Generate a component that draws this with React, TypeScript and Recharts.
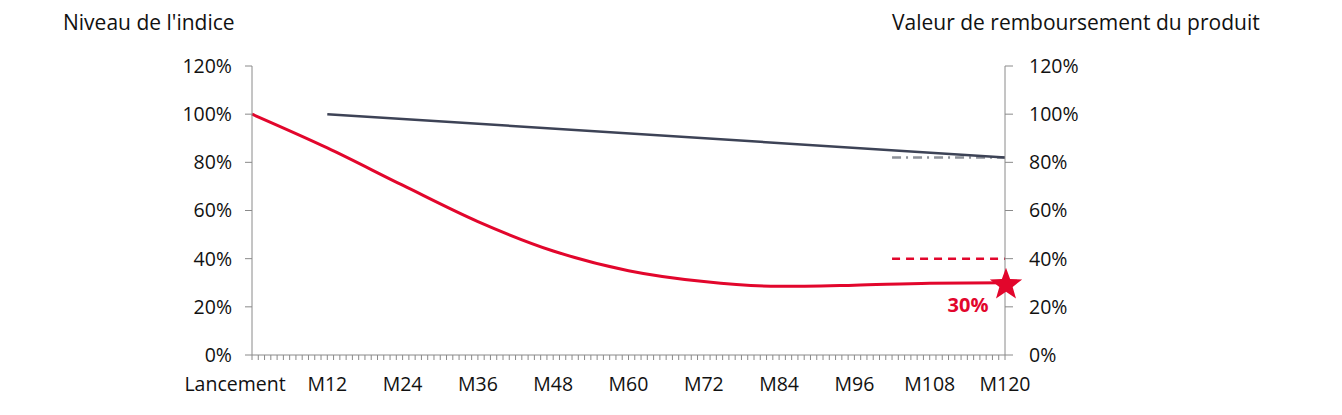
import { LineChart, Line, XAxis, YAxis } from "recharts"

// Échéances (mois) et libellés de l'axe horizontal
const months = [0, 12, 24, 36, 48, 60, 72, 84, 96, 108, 120]
const monthLabels = ["Lancement", "M12", "M24", "M36", "M48", "M60", "M72", "M84", "M96", "M108", "M120"]

// Niveau de l'indice (courbe rouge)
const indexLevel = [1.0, 0.86, 0.705, 0.554, 0.432, 0.35, 0.305, 0.285, 0.29, 0.298, 0.3]

// Seuil de remboursement anticipé (ligne grise)
const recallMonths = [12, 120]
const recallLevel = [1.0, 0.82]

// Barrières finales
const barrierMonths = [102, 120]
const finalRecallBarrier = [0.82, 0.82]
const protectionBarrier = [0.4, 0.4]

const yTicks = [0, 0.2, 0.4, 0.6, 0.8, 1.0, 1.2]
const finalLabel = "30%"

const RED = "#e2062c"
const NAVY = "#3d4356"
const GREY = "#8d9199"
const AXIS = "#8a8a8a"
const FONT = "'Open Sans', sans-serif"
const TICK_SIZE = 19.5

// Table construite à partir des tableaux ci-dessus
const allMonths = Array.from(new Set([...months, ...recallMonths, ...barrierMonths])).sort((a, b) => a - b)
const chartData = allMonths.map(m => {
  const i = months.indexOf(m)
  const r = recallMonths.indexOf(m)
  const b = barrierMonths.indexOf(m)
  return {
    month: m,
    indice: i >= 0 ? indexLevel[i] : null,
    rappel: r >= 0 ? recallLevel[r] : null,
    barriereRappel: b >= 0 ? finalRecallBarrier[b] : null,
    barriereProtection: b >= 0 ? protectionBarrier[b] : null,
  }
})

const monthTicks = Array.from({ length: 121 }, (_, i) => i)
const pct = (v: number) => `${Math.round(v * 100)}%`

function MonthTick({ x, y, payload }: any) {
  const idx = months.indexOf(payload.value)
  if (idx < 0) return <g />
  const dx = idx === 0 ? -17 : 0
  return (
    <text x={x + dx} y={y + 29} textAnchor="middle" fontSize={TICK_SIZE} fontFamily={FONT} fill="#111">
      {monthLabels[idx]}
    </text>
  )
}

function starPath(cx: number, cy: number, outer: number, inner: number) {
  const pts: string[] = []
  for (let k = 0; k < 10; k++) {
    const r = k % 2 === 0 ? outer : inner
    const a = -Math.PI / 2 + (k * Math.PI) / 5
    pts.push(`${cx + r * Math.cos(a)},${cy + r * Math.sin(a)}`)
  }
  return `M${pts.join("L")}Z`
}

function FinalDot(props: any) {
  const { cx, cy, payload, index } = props
  if (payload.month !== months[months.length - 1]) return <g key={`d${index}`} />
  return (
    <g key={`d${index}`}>
      <path d={starPath(cx + 1, cy + 2, 17, 7)} fill={RED} />
      <text x={cx - 37} y={cy + 29} textAnchor="middle" fontSize={20} fontWeight={700} fontFamily={FONT} fill={RED}>
        {finalLabel}
      </text>
    </g>
  )
}

export default function App() {
  return (
    <div style={{ position: "relative", width: 1326, height: 407, fontFamily: FONT }}>
      <div style={{ position: "absolute", left: 55, top: 0, fontSize: 21, color: "#111", whiteSpace: "nowrap" }}>
        Niveau de l'indice
      </div>
      <div style={{ position: "absolute", left: 884, top: 0, fontSize: 21, color: "#111", whiteSpace: "nowrap" }}>
        Valeur de remboursement du produit
      </div>
      <LineChart width={1326} height={407} data={chartData} margin={{ top: 58, right: 249, left: 184, bottom: 20 }}>
        <XAxis
          dataKey="month"
          type="number"
          domain={[0, 120]}
          ticks={monthTicks}
          interval={0}
          tick={<MonthTick />}
          tickSize={5}
          stroke={AXIS}
          height={40}
        />
        <YAxis
          yAxisId="left"
          domain={[0, 1.2]}
          ticks={yTicks}
          tickFormatter={pct}
          tickSize={7}
          tickMargin={13}
          stroke={AXIS}
          width={60}
          tick={{ fill: "#111", fontSize: TICK_SIZE, fontFamily: FONT }}
        />
        <YAxis
          yAxisId="right"
          orientation="right"
          domain={[0, 1.2]}
          ticks={yTicks}
          tickFormatter={pct}
          tickSize={8}
          tickMargin={16}
          stroke={AXIS}
          width={80}
          tick={{ fill: "#111", fontSize: TICK_SIZE, fontFamily: FONT }}
        />
        <Line
          yAxisId="right"
          dataKey="barriereRappel"
          stroke={GREY}
          strokeWidth={2.5}
          strokeDasharray="9 5 2 5"
          dot={false}
          connectNulls
          isAnimationActive={false}
        />
        <Line
          yAxisId="left"
          dataKey="rappel"
          type="linear"
          stroke={NAVY}
          strokeWidth={2.5}
          dot={false}
          connectNulls
          isAnimationActive={false}
        />
        <Line
          yAxisId="right"
          dataKey="barriereProtection"
          stroke={RED}
          strokeWidth={2.5}
          strokeDasharray="8 6"
          dot={false}
          connectNulls
          isAnimationActive={false}
        />
        <Line
          yAxisId="left"
          dataKey="indice"
          type="monotone"
          stroke={RED}
          strokeWidth={3}
          dot={FinalDot}
          activeDot={false}
          connectNulls
          isAnimationActive={false}
        />
      </LineChart>
    </div>
  )
}
